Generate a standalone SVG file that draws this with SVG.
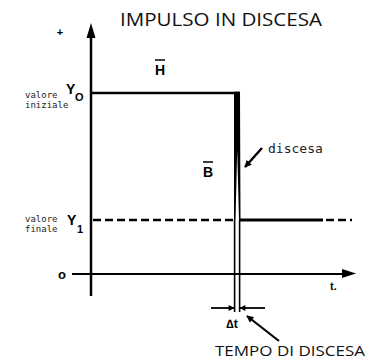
<svg xmlns="http://www.w3.org/2000/svg" width="378" height="359" viewBox="0 0 378 359">
<defs>
<style>
.ln{stroke:#000;fill:none}
.sans{font-family:"Open Sans","Liberation Sans",sans-serif;fill:#111}
.mono{font-family:"DejaVu Sans Mono","Liberation Mono",monospace;fill:#222}
.bold{font-family:"Liberation Sans",Arial,sans-serif;font-weight:bold;fill:#000}
</style>
<marker id="ah" viewBox="0 0 10 10" refX="9" refY="5" markerWidth="8" markerHeight="6" markerUnits="userSpaceOnUse" orient="auto"><path d="M0,0 L10,5 L0,10 z" fill="#000"/></marker>
<marker id="ahs" viewBox="0 0 10 10" refX="9" refY="5" markerWidth="9" markerHeight="7" markerUnits="userSpaceOnUse" orient="auto"><path d="M0,0 L10,5 L0,10 z" fill="#000"/></marker>
</defs>
<rect width="378" height="359" fill="#fff"/>
<g id="title"><text class="sans" x="120" y="26" font-size="18" textLength="202" lengthAdjust="spacingAndGlyphs">IMPULSO IN DISCESA</text></g>
<g id="axes">
<line class="ln" x1="91" y1="36" x2="91" y2="296" stroke-width="2.5"/>
<path d="M91,23 L95.5,38 L86.5,38 z" fill="#000"/>
<line class="ln" x1="72" y1="274" x2="344" y2="274" stroke-width="2.2"/>
<path d="M356,273.5 L342,269 L342,278 z" fill="#000"/>
<text class="bold" x="60" y="36" font-size="11" text-anchor="middle">+</text>
<text class="bold" x="62" y="279" font-size="13" text-anchor="middle">o</text>
<text class="bold" x="330" y="290" font-size="11">t.</text>
</g>
<g id="signal">
<line class="ln" x1="91" y1="93" x2="240" y2="93" stroke-width="2.5"/>
<path d="M234,91.8 L240,91.8 L240.5,220 L239,220 L237.2,150 L235.5,220 L234,220 z" fill="#000"/>
<line class="ln" x1="240" y1="220" x2="323" y2="220" stroke-width="3"/>
<line class="ln" x1="93" y1="220" x2="234" y2="220" stroke-width="2.5" stroke-dasharray="8,4"/>
<line class="ln" x1="326" y1="220" x2="352" y2="220" stroke-width="2.5" stroke-dasharray="8,4"/>
</g>
<g id="levels">
<text class="bold" x="66" y="94" font-size="14">Y</text>
<text class="bold" x="75" y="101" font-size="11">O</text>
<text class="mono" x="25" y="98" font-size="9">valore</text>
<text class="mono" x="25" y="108" font-size="9">iniziale</text>
<text class="bold" x="67" y="225" font-size="14">Y</text>
<text class="bold" x="77" y="233" font-size="11">1</text>
<text class="mono" x="25" y="222" font-size="9">valore</text>
<text class="mono" x="25" y="232" font-size="9">finale</text>
</g>
<g id="H"><text class="bold" x="160" y="75" font-size="14" text-anchor="middle">H</text><line class="ln" x1="155" y1="60" x2="165" y2="60" stroke-width="1.5"/></g>
<g id="B"><text class="bold" x="208" y="177" font-size="14" text-anchor="middle">B</text><line class="ln" x1="203" y1="162" x2="213" y2="162" stroke-width="1.5"/></g>
<g id="discesa"><text class="mono" x="268" y="153" font-size="13">discesa</text></g>
<g id="deltat">
<line class="ln" x1="234.6" y1="220" x2="234.6" y2="312" stroke-width="1.6"/>
<line class="ln" x1="239.6" y1="220" x2="239.6" y2="312" stroke-width="1.6"/>
<text class="bold" x="232" y="328" font-size="12" text-anchor="middle">∆t</text>
</g>
<g id="tempo"><text class="sans" x="215" y="356" font-size="15" textLength="150" lengthAdjust="spacingAndGlyphs">TEMPO DI DISCESA</text></g>
<g id="connectors">
<line class="ln" x1="262" y1="148" x2="245" y2="167" stroke-width="2.5" marker-end="url(#ahs)"/>
<line class="ln" x1="211" y1="308" x2="234" y2="308" stroke-width="1.8" marker-end="url(#ah)"/>
<line class="ln" x1="265" y1="308" x2="240" y2="308" stroke-width="1.8" marker-end="url(#ah)"/>
<line class="ln" x1="279" y1="341" x2="247" y2="316" stroke-width="2.2" marker-end="url(#ahs)"/>
</g>
</svg>
